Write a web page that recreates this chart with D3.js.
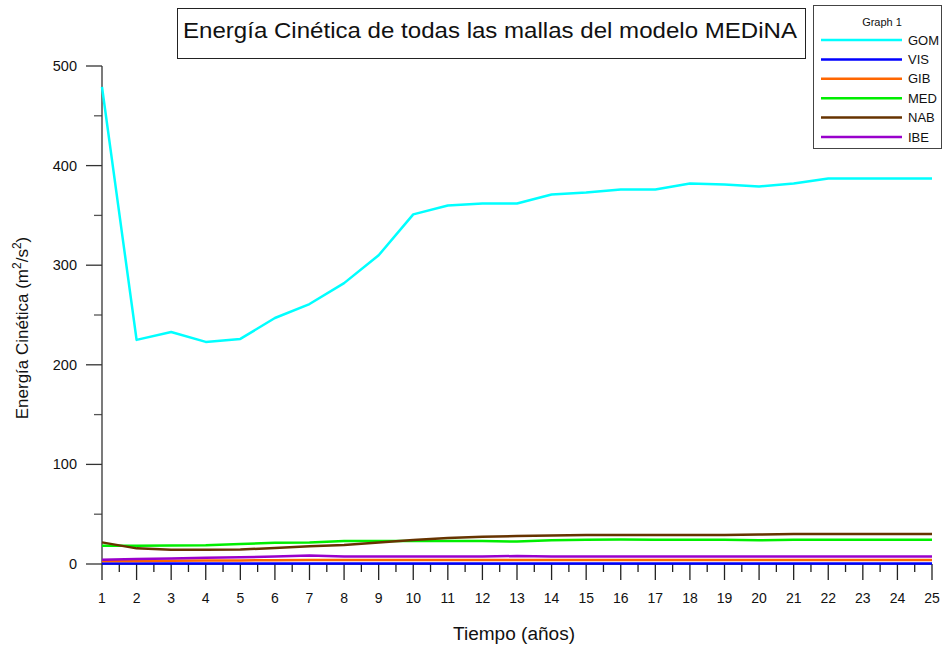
<!DOCTYPE html>
<html>
<head>
<meta charset="utf-8">
<script src="https://cdn.jsdelivr.net/npm/d3@7"></script>
<style>
  body { margin: 0; background: #fff; }
  svg { display: block; font-family: "Liberation Sans", Arial, sans-serif; }
</style>
</head>
<body>
<div id="chart"></div>
<script>
// years on the x axis
var years = d3.range(1, 26);

// series values
var gom = [479, 225, 233, 223, 226, 247, 261, 282, 310, 351, 360, 362, 362, 371, 373, 376, 376, 382, 381, 379, 382, 387, 387, 387, 387];
var vis = [0.6, 0.6, 0.6, 0.6, 0.6, 0.6, 0.6, 0.6, 0.6, 0.6, 0.6, 0.6, 0.6, 0.6, 0.6, 0.6, 0.6, 0.6, 0.6, 0.6, 0.6, 0.6, 0.6, 0.6, 0.6];
var gib = [3, 3, 3.2, 3.4, 3.6, 3.8, 4, 4, 4, 4, 4, 4, 4, 4, 4, 4, 4, 4, 4, 4, 4, 4, 4, 4, 4];
var med = [18.4, 18.4, 18.6, 18.8, 20, 21.4, 21.7, 23, 23, 23, 23, 23, 22.5, 23.8, 24.4, 24.7, 24.4, 24.4, 24.4, 23.8, 24.4, 24.4, 24.4, 24.4, 24.4];
var nab = [21.7, 15.7, 14.3, 14.3, 14.6, 16, 17.7, 19, 21.7, 24, 26, 27.4, 28, 28.7, 29, 29, 29, 29, 29, 29.6, 30, 30, 30.1, 30.1, 30.1];
var ibe = [4.3, 5, 5.6, 6.2, 6.8, 7.5, 8.5, 7.6, 7.6, 7.6, 7.6, 7.6, 8, 7.6, 7.6, 7.6, 7.6, 7.6, 7.6, 7.6, 7.6, 7.6, 7.6, 7.6, 7.6];

var seriesNames = ["GOM", "VIS", "GIB", "MED", "NAB", "IBE"];
var seriesValues = [gom, vis, gib, med, nab, ibe];
var colors = ["#00ffff", "#0000ff", "#ff6600", "#00ee00", "#663300", "#9900cc"];

var yTicks = [0, 100, 200, 300, 400, 500];

var width = 942, height = 646;
var svg = d3.select("#chart").append("svg")
    .attr("width", width)
    .attr("height", height);

var x = d3.scaleLinear().domain([1, 25]).range([102, 932]);
var y = d3.scaleLinear().domain([0, 500]).range([564, 66]);

// y axis: majors every 100, minors at 50
var yMinor = d3.range(50, 500, 100);
svg.append("g").selectAll("line.ymin")
    .data(yMinor).enter().append("line")
    .attr("x1", 94).attr("x2", 102)
    .attr("y1", function (d) { return y(d); }).attr("y2", function (d) { return y(d); })
    .attr("stroke", "#555").attr("stroke-width", 1.3);

svg.append("g").selectAll("line.ymaj")
    .data(yTicks).enter().append("line")
    .attr("x1", 86).attr("x2", 102)
    .attr("y1", function (d) { return y(d); }).attr("y2", function (d) { return y(d); })
    .attr("stroke", "#333").attr("stroke-width", 1.3);

svg.append("g").selectAll("text")
    .data(yTicks).enter().append("text")
    .attr("x", 77)
    .attr("y", function (d) { return y(d) + 5; })
    .attr("text-anchor", "end")
    .attr("font-size", 14.5)
    .attr("fill", "#111")
    .text(function (d) { return d; });

svg.append("line")
    .attr("x1", 102).attr("x2", 102)
    .attr("y1", y(500)).attr("y2", y(0))
    .attr("stroke", "#333").attr("stroke-width", 1.3);

// x axis
svg.append("line")
    .attr("x1", x(1)).attr("x2", x(25))
    .attr("y1", y(0)).attr("y2", y(0))
    .attr("stroke", "#333").attr("stroke-width", 1.3);

svg.append("g").selectAll("line")
    .data(years).enter().append("line")
    .attr("x1", function (d) { return x(d); }).attr("x2", function (d) { return x(d); })
    .attr("y1", 564).attr("y2", 580)
    .attr("stroke", "#222").attr("stroke-width", 1.3);

svg.append("g").selectAll("line")
    .data(years.slice(0, -1)).enter().append("line")
    .attr("x1", function (d) { return x(d + 0.5); }).attr("x2", function (d) { return x(d + 0.5); })
    .attr("y1", 564).attr("y2", 572)
    .attr("stroke", "#222").attr("stroke-width", 1.3);

svg.append("g").selectAll("text")
    .data(years).enter().append("text")
    .attr("x", function (d) { return x(d); })
    .attr("y", 603)
    .attr("text-anchor", "middle")
    .attr("font-size", 14)
    .attr("fill", "#111")
    .text(function (d) { return d; });

// axis titles
svg.append("text")
    .attr("x", 514).attr("y", 640)
    .attr("text-anchor", "middle")
    .attr("font-size", 18)
    .attr("textLength", 122)
    .attr("lengthAdjust", "spacingAndGlyphs")
    .attr("fill", "#111")
    .text("Tiempo (años)");

var yt = svg.append("text")
    .attr("transform", "translate(28,328) rotate(-90)")
    .attr("text-anchor", "middle")
    .attr("font-size", 17)
    .attr("fill", "#111");
yt.append("tspan").text("Energía Cinética (m");
yt.append("tspan").attr("dy", -7).attr("font-size", 12).text("2");
yt.append("tspan").attr("dy", 7).text("/s");
yt.append("tspan").attr("dy", -7).attr("font-size", 12).text("2");
yt.append("tspan").attr("dy", 7).text(")");

// lines
var line = d3.line()
    .x(function (d, i) { return x(years[i]); })
    .y(function (d) { return y(d); });

svg.append("g").selectAll("path")
    .data(seriesValues).enter().append("path")
    .attr("d", line)
    .attr("fill", "none")
    .attr("stroke", function (d, i) { return colors[i]; })
    .attr("stroke-width", 2.5)
    .attr("stroke-linejoin", "round");

// title box
svg.append("rect")
    .attr("x", 177.5).attr("y", 8.5).attr("width", 628).attr("height", 50)
    .attr("fill", "#fff").attr("stroke", "#222").attr("stroke-width", 1);
svg.append("text")
    .attr("x", 183).attr("y", 38)
    .attr("font-size", 22)
    .attr("textLength", 614)
    .attr("lengthAdjust", "spacingAndGlyphs")
    .attr("fill", "#111")
    .text("Energía Cinética de todas las mallas del modelo MEDiNA");

// legend
var lg = svg.append("g");
lg.append("rect")
    .attr("x", 813.5).attr("y", 5.5).attr("width", 128).attr("height", 143)
    .attr("fill", "#fff").attr("stroke", "#444").attr("stroke-width", 1);
lg.append("text")
    .attr("x", 882).attr("y", 26)
    .attr("text-anchor", "middle")
    .attr("font-size", 11)
    .attr("fill", "#111")
    .text("Graph 1");
var item = lg.selectAll("g.item")
    .data(seriesNames).enter().append("g")
    .attr("transform", function (d, i) { return "translate(0," + (40 + i * 19.4) + ")"; });
item.append("line")
    .attr("x1", 821).attr("x2", 902)
    .attr("stroke", function (d, i) { return colors[i]; })
    .attr("stroke-width", 2.5);
item.append("text")
    .attr("x", 908).attr("y", 4.5)
    .attr("font-size", 13)
    .attr("fill", "#111")
    .text(function (d) { return d; });
</script>
</body>
</html>
